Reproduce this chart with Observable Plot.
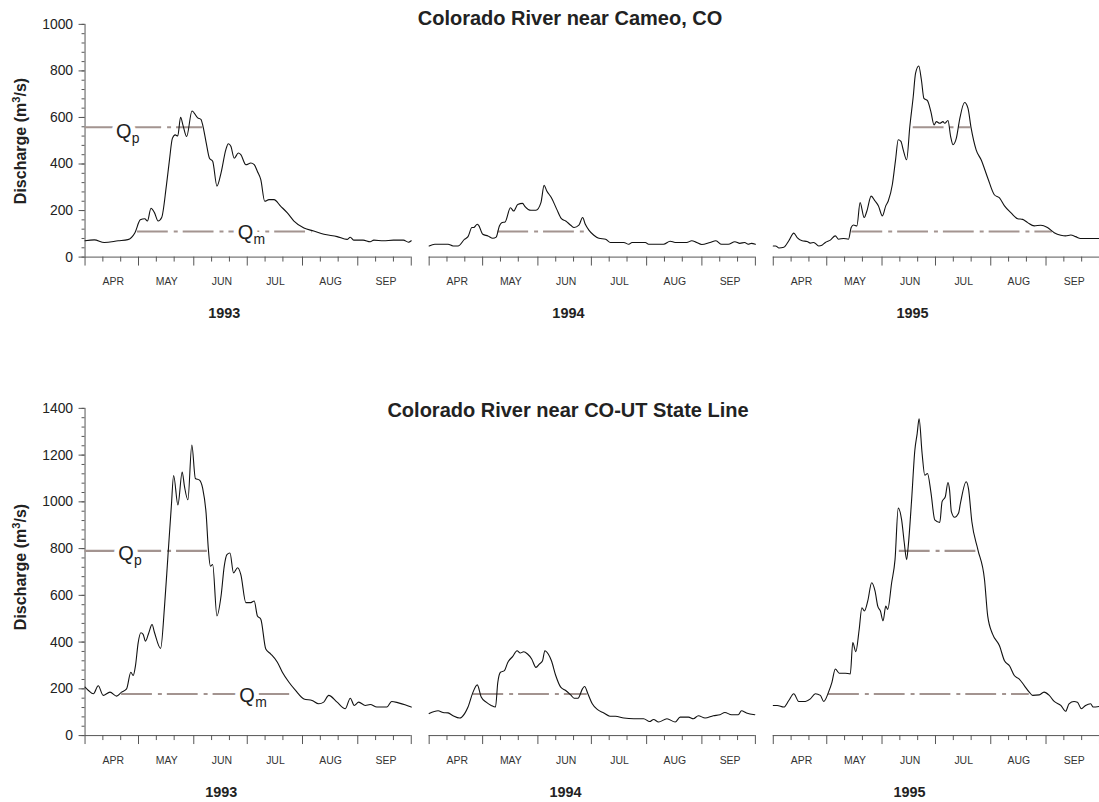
<!DOCTYPE html>
<html>
<head>
<meta charset="utf-8">
<script src="https://cdn.jsdelivr.net/npm/d3@7"></script>
<script src="https://cdn.jsdelivr.net/npm/@observablehq/plot@0.6"></script>
<style>
  html, body { margin: 0; padding: 0; background: #fff; overflow: hidden; }
  #wrap { position: relative; width: 1099px; height: 802px; overflow: hidden;
          font-family: "Liberation Sans", Arial, Helvetica, sans-serif; color: #222; }
  .row { position: absolute; left: 0; }
  .title { position: absolute; font-weight: bold; font-size: 20px; white-space: nowrap;
           transform: translateX(-50%); line-height: normal; }
  .ylab { position: absolute; font-weight: bold; font-size: 16px; white-space: nowrap;
          transform: translate(-50%, -50%) rotate(-90deg); line-height: normal; }
  .ylab sup { font-size: 0.7em; line-height: 0; }
</style>
</head>
<body>
<div id="wrap">
  <div class="title" style="left:570px; top:7px;">Colorado River near Cameo, CO</div>
  <div class="title" style="left:568px; top:399px;">Colorado River near CO-UT State Line</div>
  <div class="ylab" style="left:21px; top:141px;">Discharge (m<sup>3</sup>/s)</div>
  <div class="ylab" style="left:21px; top:567px;">Discharge (m<sup>3</sup>/s)</div>
  <div class="row" id="row1" style="top:0px;"></div>
  <div class="row" id="row2" style="top:384px;"></div>
</div>
<script>
// ---------------- DATA (day index from 1 April, discharge m3/s) ----------------
const years = [1993, 1994, 1995];
const monthLabels = ["APR", "MAY", "JUN", "JUL", "AUG", "SEP"];

const cameo1993 = [[0,70],[5.2,74],[10.8,63],[18.6,70],[24,75],[28,105],[31,160],[33.5,165],[35,155],[37,210],[39,190],[41,155],[43,170],[45.6,305],[47.4,420],[49,510],[50.6,525],[52,520],[53.6,601],[55,565],[57,518],[60,628],[63.2,598],[65,592],[66.2,561],[68,490],[69.8,425],[71.6,412],[74,305],[76.3,362],[79,462],[80.4,487],[81.8,476],[83.7,425],[86,447],[87.4,440],[90.2,397],[93,404],[94.9,397],[96.7,368],[98.6,333],[100.8,240],[103.2,247],[106,247],[109.7,219],[113.5,190],[117.2,155],[122.8,125],[128.3,112],[134,98],[141.4,88],[147,76],[148.8,85],[150.7,73],[156,73],[160,66],[162,73],[167.4,70],[173,73],[178.6,73],[181.4,64],[183,70]];
const cameo1994 = [[0,48],[3.2,55],[10.6,55],[13.4,48],[16.2,48],[19.9,77],[21.8,88],[24,127],[25,127],[27,141],[27.7,137],[30.1,98],[33,91],[35.7,81],[37.6,86],[39.4,134],[40.7,148],[42.6,151],[45.6,212],[47.4,198],[49.7,226],[52.4,231],[53.8,217],[57.1,201],[59.9,201],[62.7,234],[64.5,308],[66,284],[68.6,255],[71.6,205],[74.2,165],[76.6,155],[79.4,137],[81.3,127],[84,137],[86.1,170],[87.6,141],[89.7,115],[92.4,94],[95.2,81],[99,77],[101.7,63],[109.2,63],[112,55],[113.8,63],[121.3,63],[123.1,55],[131.5,55],[135.2,68],[138,63],[144.5,63],[147.3,70],[150,63],[152.9,54],[157.6,63],[160.9,70],[164,55],[167.8,55],[171.5,66],[174.3,59],[177,63],[179,55],[180.8,59],[183,55]];
const cameo1995 = [[0,48],[1.3,48],[3.2,39],[5.9,42],[8.7,70],[11.5,103],[13.4,84],[16.2,70],[19,67],[20.8,60],[22.7,63],[25.5,48],[27.3,51],[29.2,63],[32,73],[34.8,91],[36.6,77],[39.4,80],[42.2,77],[43.7,127],[45,138],[46.9,134],[48.7,234],[51,170],[52.5,198],[54.9,262],[57.1,241],[59,220],[61.2,177],[63.1,220],[64.5,241],[66.8,312],[68.6,418],[70.1,504],[71.6,497],[72.9,461],[74.8,418],[76.6,561],[78.5,689],[79.8,789],[81.6,821],[83.1,761],[84.5,682],[86.5,672],[88.4,625],[90.2,568],[91.5,582],[93.4,575],[95.2,582],[96.2,575],[98,587],[99.5,518],[100.8,483],[102.7,511],[104.5,590],[107.3,664],[109.2,640],[111,554],[113.8,461],[116.6,418],[120.3,340],[124,268],[126.9,254],[129.7,220],[133.4,190],[137.1,165],[139.9,162],[142.7,148],[146.4,134],[150.1,137],[153.8,127],[157.6,105],[161.3,94],[164,91],[166.9,95],[169.6,88],[172.4,80],[175.2,80],[178.9,80],[183,80]];

const state1993 = [[0,207],[1.9,193],[4.7,179],[7.4,213],[10.2,172],[14,186],[17.7,169],[20.5,186],[23.3,200],[25.7,271],[27,257],[28.3,299],[29.8,397],[31.3,440],[32.6,433],[33.9,404],[35.7,438],[37.6,475],[39,440],[42.4,373],[44.6,554],[46.5,767],[48.4,980],[49.7,1113],[52.1,987],[54.5,1128],[55.8,1065],[57.7,1009],[59.9,1243],[61.9,1100],[64.2,1093],[66,1058],[67.9,952],[69.2,796],[70.3,725],[71.6,732],[74,512],[76.3,597],[78.1,725],[79.6,774],[81.3,781],[83.3,696],[85.6,718],[87.4,689],[90.2,569],[93,569],[94.9,576],[96.7,512],[98.6,498],[101.4,370],[104.2,349],[107.9,314],[110.7,271],[114.4,228],[118.1,193],[122.8,157],[127.4,150],[131.1,136],[133.9,143],[136.7,172],[141.4,143],[146,115],[148.8,160],[151,129],[153.5,143],[157.2,129],[160,133],[163.7,122],[169.3,122],[172,146],[175.8,140],[179.5,132],[183,122]];
const state1994 = [[0,94],[5,106],[7.8,99],[10.6,97],[13.4,85],[17.1,75],[19.9,94],[21.8,122],[24.6,186],[27,217],[29.2,165],[32,143],[34.8,129],[37.2,122],[38.5,227],[40,271],[42.2,278],[44.1,313],[46.9,339],[49.3,363],[51.1,353],[53,359],[55.2,349],[57.5,328],[59.9,292],[61.8,306],[63.6,320],[64.9,363],[66.8,349],[68.6,320],[71,257],[73.8,207],[76.6,193],[79.4,174],[81.3,160],[83.5,160],[86,200],[87.2,210],[89.1,178],[91.5,136],[94.3,112],[98,97],[101.4,83],[104.5,83],[109.2,75],[114.8,72],[120.3,72],[123.7,60],[125.9,69],[128.7,58],[133.4,72],[138,58],[140.8,79],[145.5,79],[148.2,72],[151,85],[154.8,75],[159.4,85],[163.1,89],[165.9,99],[169.6,89],[173.4,89],[175.2,106],[178,97],[182.7,89]];
const state1995 = [[0,129],[2.2,129],[5.9,122],[8.7,150],[11.5,179],[14.3,146],[18,146],[20.8,157],[23.6,179],[26.4,172],[28.3,146],[31,186],[32.9,228],[34.8,285],[37,267],[40.4,267],[43.2,264],[44.6,398],[46.3,359],[48.2,455],[49.7,547],[51.1,533],[53,576],[55.2,654],[57.1,618],[58.6,554],[60.1,533],[61.6,491],[63.1,554],[64.2,540],[66.4,654],[68.3,753],[70.1,973],[72,923],[73.5,824],[74.8,753],[75.7,810],[77.6,1008],[79.4,1220],[80.7,1291],[81.8,1355],[83.5,1206],[85,1114],[86.5,1121],[88.4,1043],[90.6,923],[93.4,912],[94.7,1001],[96.5,1022],[98,1083],[98.9,1050],[99.9,958],[101.7,934],[103.9,951],[105,994],[108.2,1086],[109.5,1057],[111.4,915],[114.8,795],[118.5,667],[120.3,511],[123.1,433],[126.9,384],[129.7,320],[132.5,299],[135.2,257],[138,242],[140.8,214],[143.6,186],[145.5,172],[149.2,174],[151.9,186],[154.8,172],[157.6,146],[161.3,129],[164,104],[165.9,136],[168.7,146],[170.6,143],[172.8,115],[175.2,129],[178,136],[179.5,122],[183,125]];

// Threshold discharges Qp / Qm and the periods they are exceeded: [year, startDay, endDay]
const cameoQp = 558, cameoQm = 110;
const stateQp = 790, stateQm = 178;
const cameoQpSpans = [[1993, 0, 66], [1995, 78.5, 110.7]];
const cameoQmSpans = [[1993, 29.4, 127.4], [1994, 38.5, 88.7], [1995, 44.1, 156.6]];
const stateQpSpans = [[1993, 0, 68.8], [1995, 70.7, 115.2]];
const stateQmSpans = [[1993, 20.5, 118.1], [1994, 24.5, 88.7], [1995, 31, 143.6]];
// labels: [year, day, baseline value, subscript]
const cameoLabels = [[1993, 17.3, 513, "p"], [1993, 85.6, 77, "m"]];
const stateLabels = [[1993, 18.6, 753, "p"], [1993, 86.5, 142, "m"]];

// ---------------- HELPERS ----------------
const FONT = '"Liberation Sans", Arial, Helvetica, sans-serif';
const Q_COLOR = "#a39490";
const AXIS = "#555";
const seasonStart = new Date(Date.UTC(2001, 3, 1));
const seasonEnd = new Date(Date.UTC(2001, 9, 1));
const dayToDate = d => new Date(seasonStart.getTime() + d * 864e5);
const majorTicks = d3.utcMonth.range(seasonStart, d3.utcDay.offset(seasonEnd, 1));
const minorTicks = majorTicks.slice(0, -1).flatMap(m => [d3.utcDay.offset(m, 10), d3.utcDay.offset(m, 20)]);
const labelTicks = majorTicks.slice(0, -1).map(m => new Date(m.getTime() + 15.8 * 864e5));

function toRows(year, pairs) {
  return pairs.map(([d, q]) => ({year, date: dayToDate(d), q}));
}
function spans(list, q) {
  return list.map(([year, s, e]) => ({year, start: dayToDate(s), end: dayToDate(e), q}));
}

function makeRow({series, segs, labels, ymax, plotH, yearDx}) {
  const labelRows = labels.map(([year, d, v, sub]) => ({year, date: dayToDate(d), v, sub}));
  const textCommon = {fx: "year", x: "date", y: "v", textAnchor: "start", lineAnchor: "bottom"};
  return Plot.plot({
    width: 1105,
    height: 24 + plotH + 70,
    marginTop: 24, marginLeft: 84, marginRight: 0, marginBottom: 70,
    style: {fontFamily: FONT, background: "transparent", color: "#222", overflow: "visible"},
    x: {type: "utc", domain: [seasonStart, seasonEnd]},
    y: {domain: [0, ymax]},
    fx: {domain: years, paddingInner: 0.0534, paddingOuter: 0, axis: null},
    marks: [
      Plot.ruleY([0], {stroke: AXIS}),
      Plot.ruleX([years[0]], {fx: d => d, x: () => seasonStart, y1: 0, y2: ymax, stroke: AXIS}),
      Plot.axisY({ticks: d3.range(0, ymax + 1, 40), tickSize: 3, tickFormat: () => "", stroke: AXIS, label: null}),
      Plot.axisY({ticks: d3.range(0, ymax + 1, 200), tickSize: 6, tickPadding: 6, fontSize: 14,
                  tickFormat: d => String(d), stroke: AXIS, fill: "#222", label: null}),
      Plot.axisX({ticks: majorTicks, tickSize: 9, tickFormat: () => "", stroke: AXIS, label: null}),
      Plot.axisX({ticks: minorTicks, tickSize: 5, tickFormat: () => "", stroke: AXIS, label: null}),
      Plot.axisX({ticks: labelTicks, tickSize: 0, tickPadding: 21, fontSize: 10.5, fill: "#333",
                  tickFormat: d => monthLabels[d.getUTCMonth() - 3], label: null}),
      Plot.text(years, {fx: d => d, text: d => String(d), frameAnchor: "bottom", lineAnchor: "top",
                        dy: 51, dx: yearDx, fontSize: 14.5, fontWeight: "bold", fill: "#222"}),
      Plot.ruleY(segs, {fx: "year", y: "q", x1: "start", x2: "end", stroke: Q_COLOR,
                        strokeWidth: 2.2, strokeDasharray: "31,6,4,5"}),
      Plot.text(labelRows, {...textCommon, text: () => "Q", fontSize: 20, fill: "white", stroke: "white", strokeWidth: 10}),
      Plot.text(labelRows, {...textCommon, text: "sub", fontSize: 14, dx: 16, dy: 5, fill: "white", stroke: "white", strokeWidth: 8}),
      Plot.text(labelRows, {...textCommon, text: () => "Q", fontSize: 20, fill: "#222"}),
      Plot.text(labelRows, {...textCommon, text: "sub", fontSize: 14, dx: 16, dy: 5, fill: "#222"}),
      Plot.line(series, {fx: "year", x: "date", y: "q", stroke: "#111", strokeWidth: 1.1, curve: "monotone-x"})
    ]
  });
}

const topRow = makeRow({
  series: [...toRows(1993, cameo1993), ...toRows(1994, cameo1994), ...toRows(1995, cameo1995)],
  segs: [...spans(cameoQpSpans, cameoQp), ...spans(cameoQmSpans, cameoQm)],
  labels: cameoLabels, ymax: 1000, plotH: 234, yearDx: -24
});
const bottomRow = makeRow({
  series: [...toRows(1993, state1993), ...toRows(1994, state1994), ...toRows(1995, state1995)],
  segs: [...spans(stateQpSpans, stateQp), ...spans(stateQmSpans, stateQm)],
  labels: stateLabels, ymax: 1400, plotH: 329, yearDx: -27
});
document.getElementById("row1").appendChild(topRow);
document.getElementById("row2").appendChild(bottomRow);
</script>
</body>
</html>
